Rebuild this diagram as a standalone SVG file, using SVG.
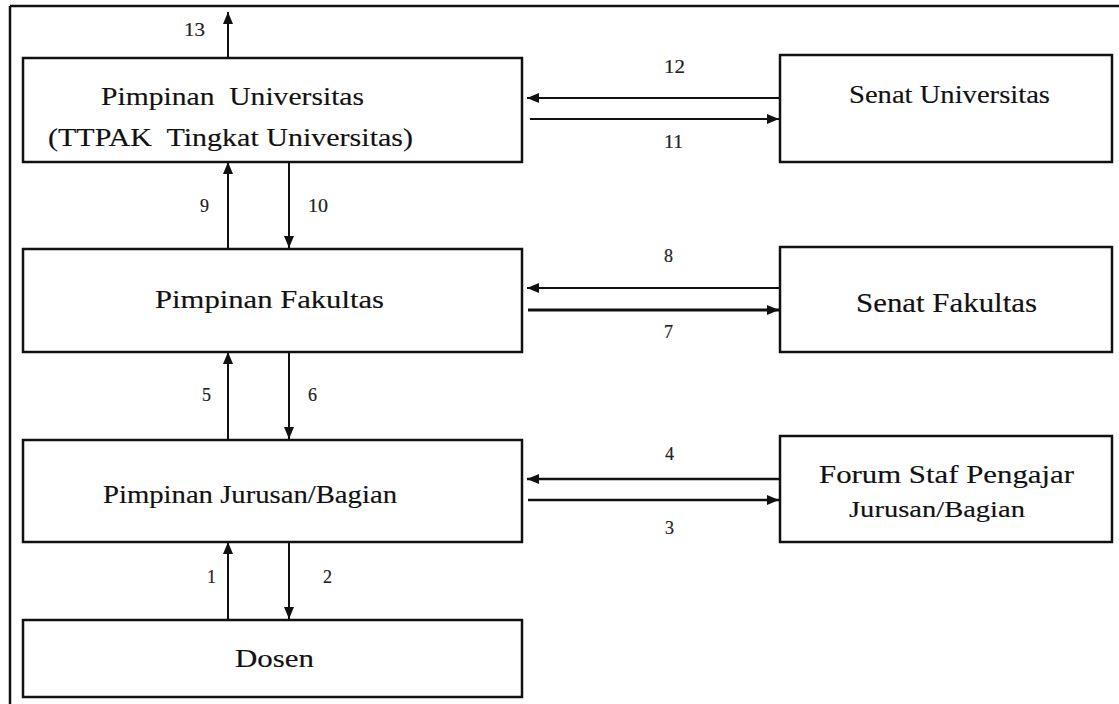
<svg xmlns="http://www.w3.org/2000/svg" width="1119" height="704" viewBox="0 0 1119 704">
<style>
.box{fill:#fff;stroke:#111;stroke-width:2.5}
.t{font-family:'Liberation Serif','Times New Roman',serif;fill:#111;stroke:#111;stroke-width:0.15}
.lbl{font-family:'Liberation Serif','Times New Roman',serif;font-size:18px;fill:#222;stroke:#222;stroke-width:0.2}
.c{stroke:#111;stroke-width:2;fill:none;marker-end:url(#ah)}
</style>
<defs>
<marker id="ah" markerUnits="userSpaceOnUse" markerWidth="12" markerHeight="10" refX="12" refY="5" orient="auto">
<path d="M0,0 L12,5 L0,10 z" fill="#111"/>
</marker>
</defs>
<rect width="1119" height="704" fill="#fff"/>
<g id="frame" stroke="#111" stroke-width="2.5" fill="none">
<line x1="10" y1="6" x2="1119" y2="6"/>
<line x1="10" y1="6" x2="10" y2="704"/>
</g>
<g id="connectors">
<line class="c" x1="228" y1="58" x2="228" y2="12"/>
<line class="c" x1="228" y1="249" x2="228" y2="162"/>
<line class="c" x1="289" y1="162" x2="289" y2="248"/>
<line class="c" x1="228" y1="440" x2="228" y2="352"/>
<line class="c" x1="289" y1="352" x2="289" y2="439"/>
<line class="c" x1="228" y1="620" x2="228" y2="542"/>
<line class="c" x1="289" y1="542" x2="289" y2="619"/>
<line class="c" x1="780" y1="98" x2="527" y2="98"/>
<line class="c" x1="530" y1="119" x2="779" y2="119"/>
<line class="c" x1="780" y1="288" x2="527" y2="288"/>
<line class="c" x1="528" y1="310" x2="779" y2="310" style="stroke-width:3"/>
<line class="c" x1="780" y1="479" x2="527" y2="479" style="stroke-width:2.5"/>
<line class="c" x1="528" y1="500" x2="779" y2="500" style="stroke-width:2.5"/>
<text class="lbl" x="184" y="36" textLength="21" lengthAdjust="spacingAndGlyphs">13</text>
<text class="lbl" x="664" y="73" textLength="21" lengthAdjust="spacingAndGlyphs">12</text>
<text class="lbl" x="664" y="148" textLength="19" lengthAdjust="spacingAndGlyphs">11</text>
<text class="lbl" x="200" y="212">9</text>
<text class="lbl" x="308" y="212" textLength="20" lengthAdjust="spacingAndGlyphs">10</text>
<text class="lbl" x="664" y="262">8</text>
<text class="lbl" x="664" y="338">7</text>
<text class="lbl" x="202" y="401">5</text>
<text class="lbl" x="308" y="401">6</text>
<text class="lbl" x="665" y="460">4</text>
<text class="lbl" x="665" y="534">3</text>
<text class="lbl" x="207" y="583">1</text>
<text class="lbl" x="323" y="583">2</text>
</g>
<g id="pimpinan-universitas">
<rect class="box" x="23" y="58" width="499" height="104"/>
<text class="t" xml:space="preserve" x="101" y="105" font-size="26" textLength="263" lengthAdjust="spacingAndGlyphs">Pimpinan  Universitas</text>
<text class="t" xml:space="preserve" x="48" y="146" font-size="26" textLength="365" lengthAdjust="spacingAndGlyphs">(TTPAK  Tingkat Universitas)</text>
</g>
<g id="senat-universitas">
<rect class="box" x="780" y="55" width="332" height="107"/>
<text class="t" x="849" y="103" font-size="26" textLength="201" lengthAdjust="spacingAndGlyphs">Senat Universitas</text>
</g>
<g id="pimpinan-fakultas">
<rect class="box" x="23" y="249" width="499" height="103"/>
<text class="t" x="155" y="308" font-size="26" textLength="229" lengthAdjust="spacingAndGlyphs">Pimpinan Fakultas</text>
</g>
<g id="senat-fakultas">
<rect class="box" x="780" y="247" width="332" height="105"/>
<text class="t" x="856" y="312" font-size="27" textLength="181" lengthAdjust="spacingAndGlyphs">Senat Fakultas</text>
</g>
<g id="pimpinan-jurusan">
<rect class="box" x="23" y="440" width="499" height="102"/>
<text class="t" x="103" y="503" font-size="25" textLength="294" lengthAdjust="spacingAndGlyphs">Pimpinan Jurusan/Bagian</text>
</g>
<g id="forum-staf">
<rect class="box" x="780" y="436" width="332" height="106"/>
<text class="t" x="819" y="483" font-size="26" textLength="255" lengthAdjust="spacingAndGlyphs">Forum Staf Pengajar</text>
<text class="t" x="849" y="517" font-size="24" textLength="176" lengthAdjust="spacingAndGlyphs">Jurusan/Bagian</text>
</g>
<g id="dosen">
<rect class="box" x="23" y="620" width="499" height="77"/>
<text class="t" x="235" y="667" font-size="26" textLength="79" lengthAdjust="spacingAndGlyphs">Dosen</text>
</g>
</svg>
